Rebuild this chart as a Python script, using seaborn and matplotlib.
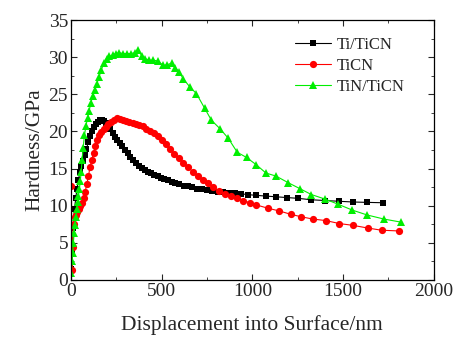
import matplotlib
matplotlib.use('Agg')
from matplotlib import pyplot as plt
from matplotlib.ticker import MultipleLocator
import pandas as pd
import seaborn as sns

# Ti/TiCN
ti_x = [3, 8, 14, 20, 27, 34, 42, 50, 58, 67, 76, 86, 96, 106, 116, 126, 137, 148, 159, 170,
        181, 193, 205, 217, 230, 243, 256, 270, 284, 298, 313, 328, 343, 359, 375, 391, 408, 425,
        442, 460, 478, 496, 515, 534, 555, 576, 598, 621, 645, 670, 696, 723, 751, 780, 810, 841,
        873, 906, 940, 975, 1019, 1075, 1133, 1190, 1250, 1326, 1400, 1477, 1556, 1633, 1721]
ti_y = [1.5, 4.0, 7.0, 9.5, 11.0, 12.3, 13.5, 14.5, 15.3, 16.0, 16.8, 17.6, 18.6, 19.4, 20.1, 20.6,
        21.0, 21.3, 21.5, 21.5, 21.4, 21.1, 20.8, 20.3, 19.8, 19.3, 18.9, 18.5, 18.0, 17.5, 17.1,
        16.6, 16.2, 15.8, 15.4, 15.1, 14.8, 14.6, 14.4, 14.2, 14.0, 13.8, 13.6, 13.4, 13.2, 13.0,
        12.9, 12.7, 12.6, 12.5, 12.3, 12.2, 12.1, 12.0, 11.9, 11.8, 11.7, 11.65, 11.6, 11.5, 11.4,
        11.3, 11.2, 11.1, 11.0, 10.8, 10.7, 10.6, 10.5, 10.45, 10.4]

# TiCN
ticn_x = [3, 6, 10, 15, 21, 28, 35, 43, 52, 61, 70, 79, 88, 97, 106, 115, 125, 135, 146, 157, 168,
          180, 193, 207, 222, 238, 254, 270, 287, 304, 322, 340, 358, 377, 396, 416, 436, 457, 478,
          500, 523, 546, 570, 594, 619, 645, 671, 698, 726, 755, 785, 816, 848, 881, 915, 950, 986,
          1023, 1088, 1148, 1211, 1271, 1335, 1405, 1479, 1556, 1635, 1712, 1809]
ticn_y = [12.7, 1.3, 4.5, 7.5, 8.5, 8.8, 9.1, 9.5, 9.9, 10.4, 11.0, 11.9, 12.9, 14.0, 15.2, 16.2,
          17.1, 18.0, 18.9, 19.5, 19.9, 20.3, 20.6, 21.0, 21.3, 21.6, 21.8, 21.7, 21.6, 21.4, 21.3,
          21.1, 21.0, 20.9, 20.7, 20.4, 20.1, 19.8, 19.4, 18.9, 18.3, 17.6, 17.0, 16.4, 15.8, 15.2,
          14.6, 14.0, 13.5, 13.0, 12.5, 12.0, 11.6, 11.3, 11.0, 10.7, 10.4, 10.1, 9.65, 9.3, 8.85,
          8.5, 8.2, 8.0, 7.6, 7.35, 7.0, 6.7, 6.6]

# TiN/TiCN
tin_x = [3, 6, 10, 14, 18, 22, 27, 32, 37, 42, 47, 52, 57, 62, 68, 75, 83, 92, 101, 111, 121, 132,
         143, 155, 168, 182, 197, 213, 230, 248, 267, 287, 308, 330, 352, 371, 390, 410, 432, 455,
         480, 509, 532, 555, 575, 598, 619, 656, 692, 738, 775, 821, 867, 917, 968, 1023, 1075,
         1130, 1198, 1262, 1326, 1400, 1473, 1552, 1633, 1726, 1817]
tin_y = [1.0, 2.5, 3.6, 5.0, 6.3, 7.4, 8.5, 9.5, 10.5, 11.3, 12.2, 13.3, 14.6, 16.2, 17.8, 19.5,
         20.7, 21.8, 22.8, 23.9, 24.8, 25.6, 26.4, 27.3, 28.3, 29.2, 29.8, 30.1, 30.3, 30.5, 30.6,
         30.5, 30.5, 30.5, 30.6, 31.0, 30.2, 29.8, 29.6, 29.6, 29.5, 28.9, 29.0, 29.2, 28.6, 28.0,
         27.1, 26.0, 25.1, 23.1, 21.5, 20.4, 19.1, 17.2, 16.5, 15.5, 14.4, 14.0, 13.1, 12.3, 11.5,
         10.9, 10.2, 9.4, 8.75, 8.2, 7.8]

sns.set_style('ticks')
plt.rcParams['font.family'] = ['Liberation Serif', 'DejaVu Serif']
plt.rcParams['mathtext.fontset'] = 'stix'

fig = plt.figure(figsize=(4.6, 3.41), dpi=100)
ax = fig.add_axes([0.154, 0.179, 0.789, 0.762])

series = [
    (ti_x, ti_y, 'Ti/TiCN', 'black', 's', 4.5),
    (ticn_x, ticn_y, 'TiCN', '#ff0000', 'o', 5.2),
    (tin_x, tin_y, 'TiN/TiCN', '#00ee00', '^', 5.2),
]
for xs, ys, name, col, mk, ms in series:
    df = pd.DataFrame({'x': xs, 'y': ys})
    sns.lineplot(data=df, x='x', y='y', ax=ax, color=col, marker=mk, markersize=ms,
                 markeredgewidth=0, linewidth=0.8, label=name, sort=False)

ax.set_xlim(0, 2000)
ax.set_ylim(0, 35)
ax.xaxis.set_major_locator(MultipleLocator(500))
ax.xaxis.set_minor_locator(MultipleLocator(250))
ax.yaxis.set_major_locator(MultipleLocator(5))
ax.yaxis.set_minor_locator(MultipleLocator(2.5))
ax.tick_params(which='both', direction='in', top=True, right=True, labelsize=14, pad=2)
ax.tick_params(which='major', length=4)
ax.tick_params(which='minor', length=2.5)
for s in ax.spines.values():
    s.set_linewidth(0.9)
    s.set_color('black')

ax.set_xlabel('Displacement into Surface/nm', fontsize=15.5, labelpad=11)
ax.set_ylabel('Hardness/GPa', fontsize=15.5, labelpad=3)

ax.legend(loc='upper left', frameon=False, fontsize=12, handlelength=2.2,
          handletextpad=0.3, labelspacing=0.3, borderpad=0,
          bbox_to_anchor=(0.617, 0.935), borderaxespad=0)

fig.savefig('out.png', dpi=100)
